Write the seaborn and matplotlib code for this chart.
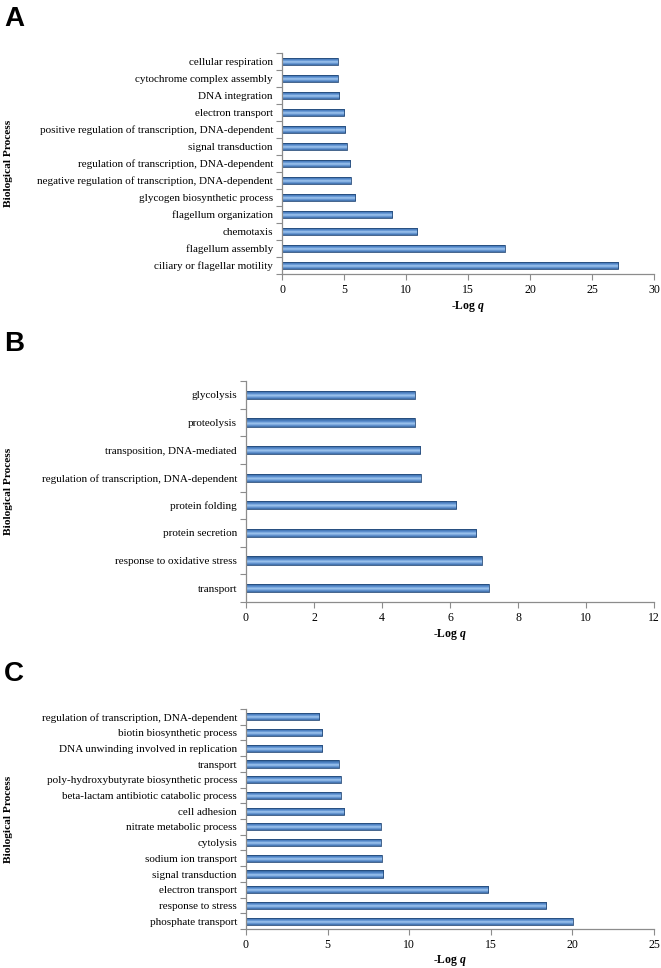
import numpy as np
import pandas as pd
import matplotlib
matplotlib.use("Agg")
import matplotlib.pyplot as plt
import seaborn as sns
from matplotlib.colors import LinearSegmentedColormap

# ---------------- data ----------------
a_terms = ["cellular respiration", "cytochrome complex assembly", "DNA integration",
           "electron transport", "positive regulation of transcription, DNA-dependent",
           "signal transduction", "regulation of transcription, DNA-dependent",
           "negative regulation of transcription, DNA-dependent",
           "glycogen biosynthetic process", "flagellum organization", "chemotaxis",
           "flagellum assembly", "ciliary or flagellar motility"]
a_vals = [4.48, 4.48, 4.62, 5.02, 5.10, 5.21, 5.51, 5.56, 5.89, 8.88, 10.91, 17.95, 27.13]
a_ticks = [0, 5, 10, 15, 20, 25, 30]

b_terms = ["glycolysis", "proteolysis", "transposition, DNA-mediated",
           "regulation of transcription, DNA-dependent", "protein folding",
           "protein secretion", "response to oxidative stress", "transport"]
b_vals = [4.96, 4.96, 5.12, 5.14, 6.19, 6.77, 6.94, 7.14]
b_ticks = [0, 2, 4, 6, 8, 10, 12]

c_terms = ["regulation of transcription, DNA-dependent", "biotin biosynthetic process",
           "DNA unwinding involved in replication", "transport",
           "poly-hydroxybutyrate biosynthetic process",
           "beta-lactam antibiotic catabolic process", "cell adhesion",
           "nitrate metabolic process", "cytolysis", "sodium ion transport",
           "signal transduction", "electron transport", "response to stress",
           "phosphate transport"]
c_vals = [4.50, 4.68, 4.68, 5.67, 5.80, 5.80, 6.03, 8.26, 8.26, 8.31, 8.41, 14.83, 18.40, 20.03]
c_ticks = [0, 5, 10, 15, 20, 25]

panel_letters = ["A", "B", "C"]
y_title = "Biological Process"
x_title = r"-Log $q$"

# ---------------- style ----------------
sns.set_theme(style="white")
plt.rcParams["font.family"] = ["Liberation Serif", "DejaVu Serif"]
plt.rcParams["mathtext.fontset"] = "custom"
plt.rcParams["mathtext.it"] = "Liberation Serif:italic:bold"
plt.rcParams["mathtext.rm"] = "Liberation Serif:bold"
plt.rcParams["text.color"] = "black"
plt.rcParams["axes.labelcolor"] = "black"

W, H = 661, 968
fig = plt.figure(figsize=(W / 100, H / 100), dpi=100)

spine_col = "#8c8c8c"
grad = LinearSegmentedColormap.from_list(
    "bar3d", ["#2d5a8e", "#3f72b0", "#5b8fd0", "#a4c9f0", "#6a9bd6", "#3a6aa6"])

def px_axes(left, top, right, bottom):
    return fig.add_axes([left / W, 1 - bottom / H, (right - left) / W, (bottom - top) / H])

panels = [
    (a_terms, a_vals, a_ticks, (282, 53, 654, 274), 0.44, 6, 30),
    (b_terms, b_vals, b_ticks, (246, 381, 654, 602), 0.30, 331, 12),
    (c_terms, c_vals, c_ticks, (246, 709, 654, 929), 0.46, 661, 25),
]

for letter, (terms, vals, ticks, box, bw, ly, xmax) in zip(panel_letters, panels):
    ax = px_axes(*box)
    df = pd.DataFrame({"term": terms, "value": vals})
    sns.barplot(data=df, x="value", y="term", orient="h", ax=ax,
                color="#4f81bd", width=bw, edgecolor="#264b7a", linewidth=0.6,
                saturation=1)
    n = len(terms)
    # gradient fill clipped to each bar
    g = np.linspace(0, 1, 64).reshape(-1, 1)
    for p in list(ax.patches):
        x0, y0 = p.get_x(), p.get_y()
        w, h = p.get_width(), p.get_height()
        im = ax.imshow(g, cmap=grad, aspect="auto", origin="upper",
                       extent=(x0, x0 + w, y0 + h, y0), zorder=p.get_zorder() + 0.1,
                       interpolation="bilinear")
        im.set_clip_path(p)
        p.set_zorder(p.get_zorder() + 0.2)
        p.set_facecolor("none")
    ax.set_xlim(0, xmax)
    ax.set_ylim(n - 0.5, -0.5)
    ax.set_xticks(ticks)
    ax.set_xticklabels([str(t) for t in ticks])
    ax.set_yticks(np.arange(n))
    ax.set_yticklabels(terms)
    ax.set_yticks(np.arange(n + 1) - 0.5, minor=True)
    ax.tick_params(axis="y", which="major", length=0, pad=6.5, labelsize=8, colors="black")
    ax.tick_params(axis="y", which="minor", length=4, width=0.8, color=spine_col, left=True)
    ax.tick_params(axis="x", which="major", length=4, width=0.8, color=spine_col,
                   labelsize=8.5, pad=3, labelcolor="black", bottom=True)
    for s in ["top", "right"]:
        ax.spines[s].set_visible(False)
    for s in ["left", "bottom"]:
        ax.spines[s].set_color(spine_col)
        ax.spines[s].set_linewidth(0.9)
    ax.set_ylabel("")
    ax.set_xlabel(x_title, fontsize=8.5, fontweight="bold", labelpad=2)
    ax.grid(False)
    # panel letter
    fig.text(4 / W, 1 - ly / H, letter, fontsize=20, fontweight="bold",
             family="Liberation Sans", va="top", ha="left", color="black")
    # rotated y title
    cy = (box[1] + box[3]) / 2
    fig.text(9 / W, 1 - cy / H, y_title, rotation=90, fontsize=8.2, fontweight="bold",
             va="center", ha="center", color="black")

fig.savefig("out.png", dpi=100, facecolor="white")
